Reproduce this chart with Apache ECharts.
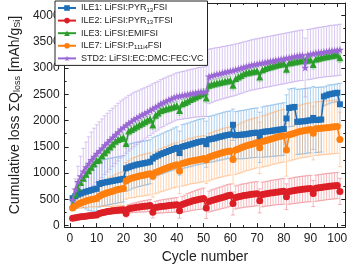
<!DOCTYPE html>
<html><head><meta charset="utf-8">
<script src="https://cdn.jsdelivr.net/npm/echarts@6/dist/echarts.min.js"></script>
<style>html,body{margin:0;padding:0;background:#fff}#c{width:350px;height:269px}</style>
</head><body><div id="c"></div>
<script>
const cycles = [1,2,3,4,5,6,7,8,9,10,11,12,13,14,15,16,17,18,19,20,21,22,23,24,25,26,27,28,29,30,31,32,33,34,35,36,37,38,39,40,41,42,43,44,45,46,47,48,49,50,51,52,53,54,55,56,57,58,59,60,61,62,63,64,65,66,67,68,69,70,71,72,73,74,75,76,77,78,79,80,81,82,83,84,85,86,87,88,89,90,91,92,93,94,95,96,97,98,99,100,101];

const ile1 = [520,560,590,610,630,645,660,675,690,700,
790,810,820,830,840,850,860,870,880,890,
1090,1110,1130,1145,1160,1170,1180,1190,1200,1215,
1275,1310,1335,1360,1380,1400,1420,1440,1460,1480,
1380,1500,1515,1530,1545,1560,1575,1590,1600,1610,
1550,1640,1650,1660,1675,1690,1700,1715,1725,1735,
1920,1720,1725,1730,1735,1740,1750,1760,1765,1770,
1680,1780,1790,1795,1800,1810,1815,1825,1830,1840,
2040,2240,2250,2260,1975,1980,1985,1990,2000,2005,
2050,2010,2015,2020,2460,2480,2500,2510,2520,2530,2310];
const ile1Err = [60,120,180,240,290,330,370,400,420,430,
440,440,440,440,440,440,440,440,440,440,
440,440,435,430,430,425,425,420,420,420,
400,390,385,385,385,390,390,395,400,400,
420,420,420,420,425,425,425,430,430,430,
440,440,440,445,445,445,450,450,450,450,
300,450,455,460,460,465,465,470,470,470,
480,480,485,485,490,490,495,495,500,500,
450,360,360,360,620,620,620,620,620,620,
600,620,620,620,180,180,180,170,170,170,400];

const ile2 = [140,150,158,165,172,178,184,190,195,200,
230,245,255,265,272,280,285,290,295,300,
230,320,330,340,348,355,362,368,374,380,
255,345,355,362,368,374,380,385,390,395,
280,400,420,440,455,470,483,495,505,515,
335,456,475,490,505,520,535,550,565,578,
420,535,550,560,570,578,586,594,600,606,
470,590,600,610,618,626,633,640,646,652,
550,650,660,668,676,683,690,696,700,705,
610,710,718,726,733,740,746,752,757,762,650];
const ile2Err = [20,25,25,30,30,30,35,35,35,40,
45,50,50,55,55,60,60,65,65,70,
70,80,85,90,95,100,105,110,110,115,
110,115,120,125,125,130,130,135,135,140,
140,150,160,170,175,180,185,190,195,200,
200,200,205,205,210,210,210,215,215,215,
220,220,220,225,225,225,230,230,230,230,
230,235,235,235,240,240,240,240,245,245,
245,245,245,250,250,250,250,250,250,250,
250,250,250,250,250,250,250,250,250,250,250];

const ile3 = [400,600,720,820,900,975,1045,1110,1175,1240,
1250,1330,1385,1440,1495,1550,1605,1640,1660,1680,
1565,1800,1830,1860,1890,1920,1950,1975,2005,2035,
1915,2100,2145,2190,2210,2225,2240,2255,2270,2285,
2190,2320,2345,2370,2400,2425,2450,2475,2500,2525,
2430,2675,2690,2700,2715,2725,2740,2750,2760,2770,
2675,2800,2830,2860,2890,2910,2920,2930,2940,2950,
2830,2970,2990,3010,3025,3040,3055,3070,3080,3090,
2980,3100,3110,3120,3130,3140,3145,3150,3155,3160,
3070,3175,3185,3200,3210,3220,3230,3240,3250,3255,3195];
const ile3Err = [40,50,55,60,60,65,65,70,70,70,
75,75,75,80,80,80,80,80,80,80,
90,80,80,80,80,80,80,80,80,80,
90,80,80,80,80,80,80,80,80,80,
90,80,80,80,80,80,80,80,80,80,
90,80,80,80,80,80,80,80,80,80,
90,80,80,80,80,80,80,80,80,80,
90,80,80,80,80,80,80,80,80,80,
90,80,80,80,80,80,80,80,80,80,
90,80,80,80,80,80,80,80,80,80,90];

const ile7 = [335,375,405,430,450,465,480,495,505,516,
560,585,605,625,640,655,670,685,695,705,
850,880,900,915,930,945,955,965,975,985,
940,1010,1030,1050,1070,1090,1110,1130,1145,1160,
1040,1180,1195,1210,1225,1235,1245,1255,1265,1275,
1250,1300,1320,1340,1355,1370,1385,1400,1410,1420,
1260,1440,1460,1480,1500,1520,1535,1550,1565,1580,
1480,1600,1615,1630,1645,1660,1675,1690,1700,1710,
1440,1730,1745,1760,1775,1790,1800,1810,1820,1830,
1760,1845,1850,1855,1860,1865,1870,1875,1880,1885,1640];
const ile7Err = [40,60,80,100,110,120,130,140,150,160,
200,220,240,260,280,290,300,310,320,330,
350,360,370,380,385,390,395,400,400,400,
400,405,410,410,415,415,420,420,425,425,
430,430,430,435,435,435,440,440,440,440,
450,450,450,455,455,455,460,460,460,460,
470,470,470,475,475,475,480,480,480,480,
490,490,490,495,495,495,500,500,500,500,
500,500,500,505,505,505,510,510,510,510,
510,510,510,510,510,510,510,510,510,510,520];

const std2 = [490,690,830,940,1030,1110,1180,1250,1310,1370,
1420,1470,1530,1580,1630,1680,1730,1780,1830,1870,
1910,1950,1985,2020,2050,2080,2110,2135,2165,2195,
2225,2255,2285,2320,2345,2370,2395,2415,2440,2460,
2470,2480,2490,2500,2510,2520,2530,2540,2545,2550,
2555,2840,2855,2870,2885,2895,2910,2920,2935,2945,
2955,2970,2985,3000,3015,3030,3045,3060,3070,3080,
3090,3100,3110,3120,3130,3140,3150,3160,3170,3180,
3190,3200,3210,3220,3230,3240,3245,3010,3255,3265,
3275,3285,3295,3300,3310,3315,3325,3330,3335,3340,3350];
const std2Err = [80,200,300,380,440,480,510,530,545,550,
555,560,560,560,560,555,550,550,545,540,
535,530,525,520,510,500,495,490,485,480,
475,470,465,460,460,455,455,450,450,450,
450,455,455,460,460,465,465,470,470,470,
480,520,515,510,505,500,500,495,495,490,
490,490,485,485,485,480,480,480,480,480,
480,480,480,480,480,480,480,480,480,480,
480,480,480,480,480,480,480,560,480,480,
480,480,480,480,480,480,485,485,485,485,485];

const xMajor = [0,10,20,30,40,50,60,70,80,90,100];
const xMinor = [5,15,25,35,45,55,65,75,85,95];
const yMajor = [0,500,1000,1500,2000,2500,3000,3500,4000];
const yMinor = [250,750,1250,1750,2250,2750,3250,3750];

const seriesNames = ['ILE1','ILE2','ILE3','ILE7','STD2'];
const legendText = {
  'ILE1': 'ILE1: LiFSI:PYR{s|13}FSI',
  'ILE2': 'ILE2: LiFSI:PYR{s|13}TFSI',
  'ILE3': 'ILE3: LiFSI:EMIFSI',
  'ILE7': 'ILE7: LiFSI:P{s|111i4}FSI',
  'STD2': 'STD2: LiFSI:EC:DMC:FEC:VC'
};

const FONT = 'Liberation Sans, Arial, sans-serif';
const star = 'path://M50,0 L61,35 L98,35 L68,57 L79,91 L50,70 L21,91 L32,57 L2,35 L39,35 Z';

const defs = [
  {name:'ILE1', v:ile1, e:ile1Err, color:'#1f6fb8', light:'rgba(90,160,220,0.55)', symbol:'rect', size:6, z:3},
  {name:'ILE2', v:ile2, e:ile2Err, color:'#dc1f26', light:'rgba(235,110,120,0.55)', symbol:'circle', size:7, z:3},
  {name:'ILE3', v:ile3, e:ile3Err, color:'#2a9d2a', light:'rgba(110,200,110,0.55)', symbol:'triangle', size:7, z:4},
  {name:'ILE7', v:ile7, e:ile7Err, color:'#ff7f0e', light:'rgba(255,170,100,0.55)', symbol:'circle', size:7, z:4},
  {name:'STD2', v:std2, e:std2Err, color:'#9a68d4', light:'rgba(185,150,230,0.6)', symbol:star, size:8, z:5}
];

const series = [];
defs.forEach(d => {
  series.push({
    type:'custom', name:d.name+'_err', xAxisIndex:0, yAxisIndex:0, z:1, silent:true,
    encode:{x:0, y:[1,2]},
    data: cycles.map((c,i)=>[c, d.v[i]-d.e[i], d.v[i]+d.e[i]]),
    renderItem:(params, api) => {
      const x = api.value(0);
      const lo = api.coord([x, api.value(1)]);
      const hi = api.coord([x, api.value(2)]);
      const w = 2;
      const st = {stroke:d.light, lineWidth:0.9};
      return {type:'group', children:[
        {type:'line', shape:{x1:lo[0],y1:lo[1],x2:hi[0],y2:hi[1]}, style:st},
        {type:'line', shape:{x1:hi[0]-w,y1:hi[1],x2:hi[0]+w,y2:hi[1]}, style:st},
        {type:'line', shape:{x1:lo[0]-w,y1:lo[1],x2:lo[0]+w,y2:lo[1]}, style:st}
      ]};
    }
  });
});
defs.forEach(d => {
  series.push({
    type:'line', name:d.name, xAxisIndex:0, yAxisIndex:0, z:d.z,
    data: cycles.map((c,i)=>[c, d.v[i]]),
    symbol:d.symbol, symbolSize:d.size, showAllSymbol:true,
    lineStyle:{color:d.color, width:1.6},
    itemStyle:{color:d.color},
    emphasis:{disabled:true}, animation:false
  });
});

const axisCol = '#222';
function xAx(pos, vals, len, label, line){
  return {type:'value', position:pos, min:-2, max:103, gridIndex:0,
    axisLine:{show:line, onZero:false, lineStyle:{color:axisCol, width:1}},
    axisTick:{show:true, inside:true, length:len, customValues:vals, lineStyle:{color:axisCol}},
    axisLabel:{show:label, customValues:vals, fontSize:12, fontFamily:FONT, color:axisCol, margin:6, formatter:v=>String(v)},
    splitLine:{show:false}};
}
function yAx(pos, vals, len, label, line){
  return {type:'value', position:pos, min:-30, max:4240, gridIndex:0,
    axisLine:{show:line, onZero:false, lineStyle:{color:axisCol, width:1}},
    axisTick:{show:true, inside:true, length:len, customValues:vals, lineStyle:{color:axisCol}},
    axisLabel:{show:label, customValues:vals, fontSize:12, fontFamily:FONT, color:axisCol, margin:5, formatter:v=>String(v)},
    splitLine:{show:false}};
}
const xA0 = xAx('bottom', xMajor, 4, true, true);
xA0.name = 'Cycle number'; xA0.nameLocation='middle'; xA0.nameGap=19;
xA0.nameTextStyle = {fontSize:14, fontFamily:FONT, color:axisCol};
const yA0 = yAx('left', yMajor, 4, true, true);
yA0.name = 'Cumulative loss ΣQ{s|loss} [mAh/g{s|Si}]';
yA0.nameLocation='middle'; yA0.nameGap=36; yA0.nameRotate=90;
yA0.nameTextStyle = {fontSize:14, fontFamily:FONT, color:axisCol,
  rich:{s:{fontSize:9, fontFamily:FONT, color:axisCol, verticalAlign:'bottom', lineHeight:8}}};

const option = {
  animation:false,
  backgroundColor:'#fff',
  grid:{left:55, right:3, top:3, bottom:32.5, containLabel:false},
  xAxis:[xA0, xAx('bottom', xMinor, 2, false, false), xAx('top', xMajor, 4, false, true), xAx('top', xMinor, 2, false, false)],
  yAxis:[yA0, yAx('left', yMinor, 2, false, false), yAx('right', yMajor, 4, false, true), yAx('right', yMinor, 2, false, false)],
  legend:{
    data:seriesNames, orient:'vertical', left:55, top:1,
    itemWidth:18, itemHeight:7, itemGap:2.6,
    padding:[2,4,2,2], borderColor:'#222', borderWidth:1, backgroundColor:'#fff',
    formatter:n => legendText[n],
    textStyle:{fontSize:9, fontFamily:FONT, color:'#222', lineHeight:10,
      rich:{s:{fontSize:6, fontFamily:FONT, color:'#222', verticalAlign:'bottom', lineHeight:6}}}
  },
  series:series
};
const chart = echarts.init(document.getElementById('c'), null, {renderer:'canvas'});
chart.setOption(option);
</script>
</body></html>
